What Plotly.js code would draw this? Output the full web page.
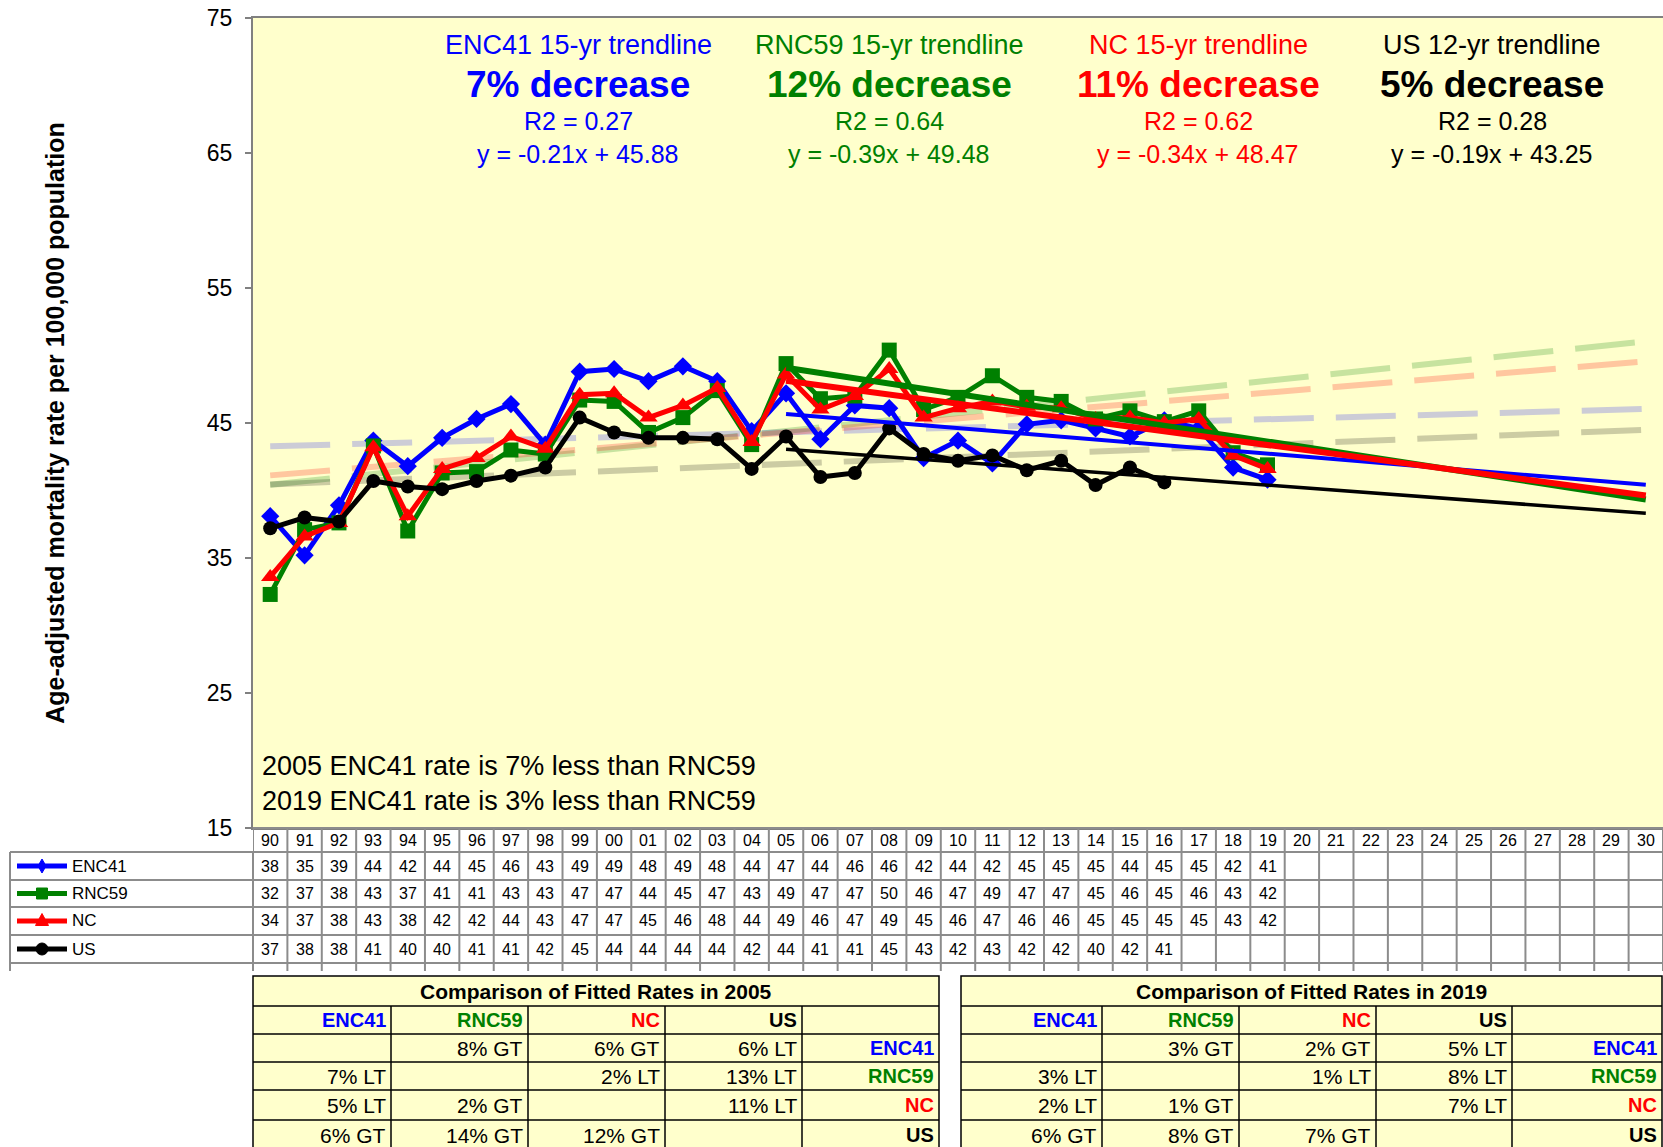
<!DOCTYPE html>
<html>
<head>
<meta charset="utf-8">
<script src="https://cdn.plot.ly/plotly-3.0.1.min.js"></script>
<style>
html,body{margin:0;padding:0;background:#ffffff;}
#chart{width:1663px;height:1147px;}
</style>
</head>
<body>
<div id="chart"></div>
<script>
// ---------------- DATA ----------------
const years = ['90','91','92','93','94','95','96','97','98','99','00','01','02','03','04','05','06','07','08','09','10','11','12','13','14','15','16','17','18','19','20','21','22','23','24','25','26','27','28','29','30'];
const seriesNames = ['ENC41','RNC59','NC','US'];

const enc41 = [38.1,35.2,38.9,43.7,41.8,43.9,45.3,46.4,43.4,48.8,49.0,48.1,49.2,48.1,44.4,47.2,43.8,46.3,46.1,42.4,43.7,42.0,44.9,45.2,44.6,44.0,45.2,44.6,41.7,40.8];
const rnc59 = [32.3,37.1,37.6,43.3,37.0,41.3,41.4,43.0,42.7,46.7,46.6,44.3,45.4,47.4,43.4,49.4,46.8,47.0,50.4,46.0,46.9,48.5,46.9,46.6,45.3,45.9,45.1,45.9,42.8,41.9];
const nc    = [33.6,36.6,37.6,43.2,38.1,41.6,42.4,44.0,43.1,47.1,47.2,45.4,46.3,47.6,43.6,48.6,46.0,47.0,49.0,45.4,46.1,46.6,46.2,46.1,45.3,45.4,45.0,45.3,42.6,41.6];
const us    = [37.2,38.0,37.7,40.7,40.3,40.1,40.7,41.1,41.7,45.4,44.3,43.9,43.9,43.8,41.6,44.0,41.0,41.3,44.6,42.7,42.2,42.6,41.5,42.2,40.4,41.7,40.6];

// 15-yr / 12-yr fitted trendlines (2005 -> 2030)
const trendYears = ['05','30'];
const enc41Trend = [45.67,40.42];
const rnc59Trend = [49.09,39.34];
const ncTrend    = [48.13,39.63];
const usTrend    = [43.06,38.31];

// long-term faded dashed trendlines (1990 -> 2030)
const longYears = ['90','30'];
const enc41Long = [43.27,46.04];
const rnc59Long = [40.43,51.05];
const ncLong    = [41.12,49.57];
const usLong    = [40.45,44.50];

const trendLabels  = ['ENC41 15-yr trendline','RNC59 15-yr trendline','NC 15-yr trendline','US 12-yr trendline'];
const trendChanges = ['7% decrease','12% decrease','11% decrease','5% decrease'];
const trendR2      = ['R2 = 0.27','R2 = 0.64','R2 = 0.62','R2 = 0.28'];
const trendEq      = ['y = -0.21x + 45.88','y = -0.39x + 49.48','y = -0.34x + 48.47','y = -0.19x + 43.25'];

const noteLines = ['2005 ENC41 rate is 7% less than RNC59','2019 ENC41 rate is 3% less than RNC59'];

const cmpTitle2005 = 'Comparison of Fitted Rates in 2005';
const cmpRows2005 = [
  ['', '8% GT', '6% GT', '6% LT'],
  ['7% LT', '', '2% LT', '13% LT'],
  ['5% LT', '2% GT', '', '11% LT'],
  ['6% GT', '14% GT', '12% GT', '']
];
const cmpTitle2019 = 'Comparison of Fitted Rates in 2019';
const cmpRows2019 = [
  ['', '3% GT', '2% GT', '5% LT'],
  ['3% LT', '', '1% LT', '8% LT'],
  ['2% LT', '1% GT', '', '7% LT'],
  ['6% GT', '8% GT', '7% GT', '']
];

const yTicks = [15,25,35,45,55,65,75];

// ---------------- STYLE / GEOMETRY ----------------
const COLORS = ['#0000FF','#008000','#FF0000','#000000'];
const FADED = ['rgba(0,0,255,0.2)','rgba(0,128,0,0.22)','rgba(255,0,0,0.22)','rgba(0,0,0,0.2)'];
const FONT = 'Liberation Sans, Arial, sans-serif';
const FIG_W = 1663, FIG_H = 1147;
const L = 253, T = 18, R = 1663, B = 828;
const W = R - L, H = B - T;
function PX(x){ return (x - L) / W; }
function PY(y){ return (B - y) / H; }

const allSeries = [enc41, rnc59, nc, us];
const allTrends = [enc41Trend, rnc59Trend, ncTrend, usTrend];
const allLong = [enc41Long, rnc59Long, ncLong, usLong];
const symbols = ['diamond','square','triangle-up','circle'];
const msizes = [14,15,16,14];
const trendWidths = [4,6,6,3.5];

const traces = [];
traces.push({x: years, y: years.map(() => null), mode: 'lines', showlegend: false, hoverinfo: 'skip'});
allLong.forEach((v, k) => traces.push({
  x: longYears, y: v, mode: 'lines', name: seriesNames[k] + ' long trend', showlegend: false, hoverinfo: 'skip',
  line: {color: FADED[k], width: 6, dash: '60px,22px'}
}));
allSeries.forEach((v, k) => traces.push({
  x: years.slice(0, v.length), y: v, mode: 'lines+markers', name: seriesNames[k], showlegend: false,
  line: {color: COLORS[k], width: 5},
  marker: {symbol: symbols[k], size: msizes[k], color: COLORS[k]}
}));
allTrends.forEach((v, k) => traces.push({
  x: trendYears, y: v, mode: 'lines', name: seriesNames[k] + ' trend', showlegend: false, hoverinfo: 'skip',
  line: {color: COLORS[k], width: trendWidths[k]}
}));

const shapes = [];
const annotations = [];
const GRID = '#8c8c8c';

// ---- data table under the plot ----
const rowEdges = [828, 852, 880, 907, 935, 963];
const rowCenters = [840, 866, 893.5, 921, 949];
shapes.push({type:'line', xref:'paper', yref:'paper', x0:0, x1:1, y0:PY(828), y1:PY(828), line:{color:GRID, width:2}});
for (let r = 1; r < rowEdges.length; r++) {
  shapes.push({type:'line', xref:'paper', yref:'paper', x0:PX(10), x1:1, y0:PY(rowEdges[r]), y1:PY(rowEdges[r]), line:{color:GRID, width:2}});
}
for (let i = 0; i <= years.length; i++) {
  shapes.push({type:'line', xref:'x', yref:'paper', x0:i - 0.5, x1:i - 0.5, y0:PY(828), y1:PY(971), line:{color:GRID, width:2}});
}
shapes.push({type:'line', xref:'paper', yref:'paper', x0:PX(10), x1:PX(10), y0:PY(852), y1:PY(971), line:{color:GRID, width:2}});
shapes.push({type:'line', xref:'paper', yref:'paper', x0:PX(L), x1:PX(L), y0:PY(852), y1:PY(971), line:{color:GRID, width:2}});

years.forEach((y, i) => annotations.push({xref:'x', yref:'paper', x:i, y:PY(rowCenters[0]), text:y, showarrow:false,
  font:{family:FONT, size:16, color:'#000'}, xanchor:'center', yanchor:'middle'}));
allSeries.forEach((v, k) => {
  v.forEach((val, i) => annotations.push({xref:'x', yref:'paper', x:i, y:PY(rowCenters[k + 1]),
    text:String(Math.round(val)), showarrow:false, font:{family:FONT, size:16, color:'#000'}, xanchor:'center', yanchor:'middle'}));
  const cy = rowCenters[k + 1];
  shapes.push({type:'line', xref:'paper', yref:'paper', x0:PX(17), x1:PX(67), y0:PY(cy), y1:PY(cy), line:{color:COLORS[k], width:5}});
  const cx = 42, s = 5.5;
  let path;
  if (k === 0) path = `M ${PX(cx)},${PY(cy - 7)} L ${PX(cx + 4)},${PY(cy)} L ${PX(cx)},${PY(cy + 7)} L ${PX(cx - 4)},${PY(cy)} Z`;
  else if (k === 1) path = `M ${PX(cx - s)},${PY(cy - s)} L ${PX(cx + s)},${PY(cy - s)} L ${PX(cx + s)},${PY(cy + s)} L ${PX(cx - s)},${PY(cy + s)} Z`;
  else if (k === 2) path = `M ${PX(cx)},${PY(cy - 7.5)} L ${PX(cx + 6.5)},${PY(cy + 4.5)} L ${PX(cx - 6.5)},${PY(cy + 4.5)} Z`;
  if (path) shapes.push({type:'path', xref:'paper', yref:'paper', path:path, fillcolor:COLORS[k], line:{color:COLORS[k], width:1}});
  else shapes.push({type:'circle', xref:'paper', yref:'paper', x0:PX(cx - 6), x1:PX(cx + 6), y0:PY(cy - 6), y1:PY(cy + 6), fillcolor:COLORS[k], line:{color:COLORS[k], width:1}});
  annotations.push({xref:'paper', yref:'paper', x:PX(70), y:PY(cy), text:seriesNames[k], showarrow:false,
    font:{family:FONT, size:17, color:'#000'}, xanchor:'left', yanchor:'middle'});
});

// ---- trendline annotations at top ----
const topX = [578, 889, 1198, 1492];
for (let k = 0; k < 4; k++) {
  const base = {xref:'paper', yref:'paper', x:PX(topX[k]), showarrow:false, xanchor:'center', yanchor:'middle'};
  annotations.push(Object.assign({}, base, {y:PY(45), text:trendLabels[k], font:{family:FONT, size:27, color:COLORS[k]}}));
  annotations.push(Object.assign({}, base, {y:PY(85), text:'<b>' + trendChanges[k] + '</b>', font:{family:FONT, size:37, color:COLORS[k]}}));
  annotations.push(Object.assign({}, base, {y:PY(121), text:trendR2[k], font:{family:FONT, size:25, color:COLORS[k]}}));
  annotations.push(Object.assign({}, base, {y:PY(154), text:trendEq[k], font:{family:FONT, size:25, color:COLORS[k]}}));
}
annotations.push({xref:'paper', yref:'paper', x:PX(260), y:PY(766), text:noteLines[0], showarrow:false, xanchor:'left', yanchor:'middle', font:{family:FONT, size:27, color:'#000'}});
annotations.push({xref:'paper', yref:'paper', x:PX(260), y:PY(801), text:noteLines[1], showarrow:false, xanchor:'left', yanchor:'middle', font:{family:FONT, size:27, color:'#000'}});

// ---- comparison tables ----
function drawCmp(cols, top, title, rows) {
  const edges = [top, 1006, 1034, 1062, 1090, 1120, 1152];
  shapes.push({type:'rect', xref:'paper', yref:'paper', x0:PX(cols[0]), x1:PX(cols[5]), y0:PY(top), y1:PY(1152),
    fillcolor:'#FFFFCC', line:{color:'#000', width:1.5}});
  for (let r = 1; r < edges.length - 1; r++) {
    shapes.push({type:'line', xref:'paper', yref:'paper', x0:PX(cols[0]), x1:PX(cols[5]), y0:PY(edges[r]), y1:PY(edges[r]), line:{color:'#000', width:1.5}});
  }
  for (let c = 1; c < 5; c++) {
    shapes.push({type:'line', xref:'paper', yref:'paper', x0:PX(cols[c]), x1:PX(cols[c]), y0:PY(1006), y1:PY(1152), line:{color:'#000', width:1.5}});
  }
  annotations.push({xref:'paper', yref:'paper', x:PX((cols[0] + cols[5]) / 2), y:PY((top + 1006) / 2), text:'<b>' + title + '</b>',
    showarrow:false, xanchor:'center', yanchor:'middle', font:{family:FONT, size:21, color:'#000'}});
  const centers = [1020, 1048, 1076, 1105, 1135];
  for (let c = 0; c < 4; c++) {
    annotations.push({xref:'paper', yref:'paper', x:PX(cols[c + 1] - 3), y:PY(centers[0]), text:'<b>' + seriesNames[c] + '</b>',
      showarrow:false, xanchor:'right', yanchor:'middle', font:{family:FONT, size:20, color:COLORS[c]}});
  }
  rows.forEach((row, r) => {
    row.forEach((txt, c) => {
      if (txt) annotations.push({xref:'paper', yref:'paper', x:PX(cols[c + 1] - 3), y:PY(centers[r + 1]), text:txt,
        showarrow:false, xanchor:'right', yanchor:'middle', font:{family:FONT, size:21, color:'#000'}});
    });
    annotations.push({xref:'paper', yref:'paper', x:PX(cols[5] - 3), y:PY(centers[r + 1]), text:'<b>' + seriesNames[r] + '</b>',
      showarrow:false, xanchor:'right', yanchor:'middle', font:{family:FONT, size:20, color:COLORS[r]}});
  });
}
drawCmp([253, 391, 528, 665, 802, 939], 976, cmpTitle2005, cmpRows2005);
drawCmp([961, 1102, 1239, 1376, 1512, 1662], 976, cmpTitle2019, cmpRows2019);

const layout = {
  width: FIG_W, height: FIG_H,
  margin: {l: L, r: FIG_W - R, t: T, b: FIG_H - B, pad: 0},
  paper_bgcolor: '#ffffff', plot_bgcolor: '#FFFFCC',
  showlegend: false,
  font: {family: FONT, color: '#000'},
  xaxis: {
    type: 'category', categoryorder: 'array', categoryarray: years, range: [-0.5, years.length - 0.5],
    showticklabels: false, ticks: '', showgrid: false, zeroline: false,
    showline: true, linecolor: '#808080', linewidth: 2, mirror: true, fixedrange: true
  },
  yaxis: {
    range: [15, 75], tickvals: yTicks, ticktext: yTicks.map(String), showgrid: false, zeroline: false,
    ticks: 'outside', ticklen: 6, tickwidth: 2, tickcolor: '#808080', ticklabelstandoff: 8,
    tickfont: {family: FONT, size: 23, color: '#000'},
    showline: true, linecolor: '#808080', linewidth: 2, mirror: true, fixedrange: true,
    title: {text: '<b>Age-adjusted mortality rate per 100,000 population</b>', font: {family: FONT, size: 25, color: '#000'}, standoff: 135}
  },
  shapes: shapes,
  annotations: annotations
};

Plotly.newPlot('chart', traces, layout, {displayModeBar: false, staticPlot: true});
</script>
</body>
</html>
